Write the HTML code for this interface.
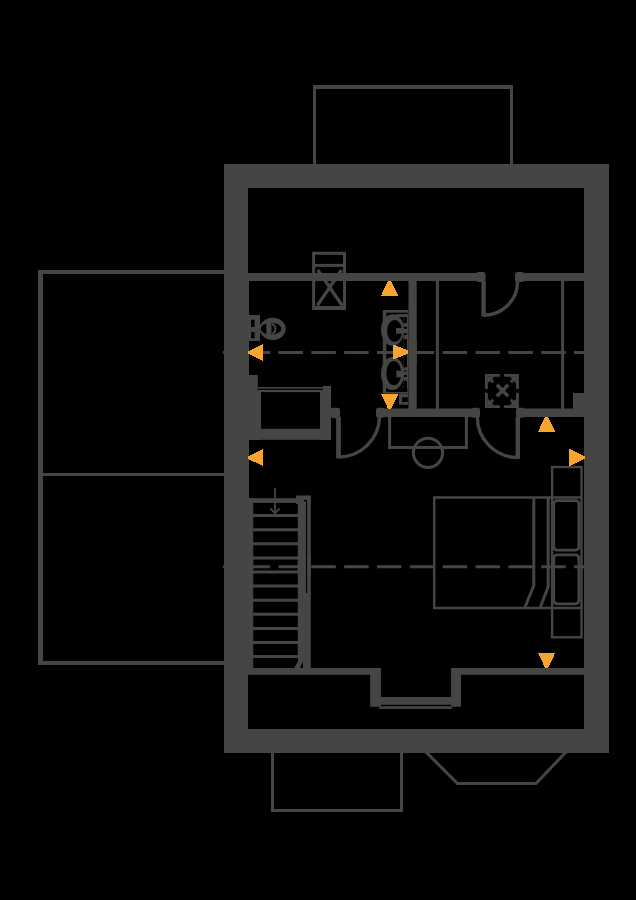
<!DOCTYPE html>
<html><head><meta charset="utf-8">
<style>
html,body{margin:0;padding:0;background:#000;}
body{width:636px;height:900px;overflow:hidden;font-family:"Liberation Sans",sans-serif;}
svg{display:block;}
</style></head>
<body>
<svg width="636" height="900" viewBox="0 0 636 900">
<rect width="636" height="900" fill="#000"/>
<g fill="none" stroke="#454543" stroke-width="3">
  <!-- top porch -->
  <path d="M313,164V85H513V164H510V89H316V164Z" fill="#454543" stroke="none"/>
  <!-- left annex -->
  <path d="M38,270H224V274H43V473H224V476H43V661H224V665H38Z" fill="#454543" stroke="none"/>
  <!-- bottom porch -->
  <path d="M271,752V812H403V752H400V809H274V752Z" fill="#454543" stroke="none"/>
  <!-- bay -->
  <polyline points="426,752 457.5,783.5 536,783.5 566,752"/>
</g>
<!-- dashed section lines -->

<!-- outer wall -->
<path fill="#454543" fill-rule="evenodd" d="M224,164H609V753H224Z M248,188H584V729H248Z"/>
<g fill="#454543">
  <!-- top interior wall -->
  <rect x="248" y="273" width="234" height="8"/>
  <rect x="517" y="273" width="67" height="8"/>
  <!-- vertical wall bathroom/ensuite -->
  <rect x="408.5" y="281" width="8.2" height="132"/>
  <!-- middle wall -->
  <rect x="379" y="408.5" width="101" height="8.5"/>
  <rect x="518" y="408.5" width="66" height="8.5"/>
  <rect x="573" y="393" width="11" height="16"/>
  <!-- cupboard frame -->
  <rect x="248" y="375" width="9.8" height="65"/>
  <rect x="248" y="392" width="13" height="48"/>
  <rect x="248" y="428.8" width="83" height="11"/>
  <rect x="322.9" y="386" width="8.1" height="53.8"/>
  <rect x="320" y="392" width="11" height="47.8"/>
  <rect x="257.8" y="387" width="65.1" height="1.6"/>
  <rect x="257.8" y="389.9" width="65.1" height="2.2"/>
  <rect x="331" y="408.3" width="6" height="9"/>
  <!-- bottom interior wall with bay recess -->
  <path d="M248,668H380.9V697H451.1V668H584V674.8H461V706.7H451.1V704.8H380.9V706.7H370.1V674.8H248Z"/>
  <rect x="379" y="706.2" width="73" height="2.7"/>
  <!-- stair -->
  <rect x="248" y="498.2" width="5.2" height="170"/>
  <rect x="248" y="498.2" width="50" height="4.7"/>
  <rect x="296" y="495.7" width="14.8" height="8.2"/>
  <rect x="297.8" y="495.7" width="13" height="172.5"/>
</g>
<rect x="306" y="501.3" width="1.1" height="91.7" fill="#000"/><rect x="303.9" y="500" width="3.2" height="1.4" fill="#000"/>
<polygon points="293.9,668.2 299.9,658 301,658 301,668.2" fill="#454543"/>
<polygon points="299.8,668.1 303,668.1 303,661.6" fill="#000"/>
<g stroke="#454543" stroke-width="3">
  <line x1="253" y1="515.6" x2="298" y2="515.6"/>
  <line x1="253" y1="529.7" x2="298" y2="529.7"/>
  <line x1="253" y1="543.8" x2="298" y2="543.8"/>
  <line x1="253" y1="557.9" x2="298" y2="557.9"/>
  <line x1="253" y1="572" x2="298" y2="572"/>
  <line x1="253" y1="586.1" x2="298" y2="586.1"/>
  <line x1="253" y1="600.2" x2="298" y2="600.2"/>
  <line x1="253" y1="614.3" x2="298" y2="614.3"/>
  <line x1="253" y1="628.4" x2="298" y2="628.4"/>
  <line x1="253" y1="642.5" x2="298" y2="642.5"/>
  <line x1="253" y1="656.6" x2="298" y2="656.6"/>
</g>

<!-- thin partition lines -->
<g stroke="#454543" stroke-width="3" fill="none">
  <line x1="437.4" y1="281" x2="437.4" y2="409"/>
  <line x1="562.6" y1="281" x2="562.6" y2="409"/>
  <!-- door B -->
  <line x1="483.6" y1="281" x2="483.6" y2="316.5" stroke-width="4.5"/>
  <path d="M483.6,315.2 A33.5,33.5 0 0 0 517.5,281" stroke-width="3.4"/>
  <!-- door A -->
  <line x1="338.5" y1="417" x2="338.5" y2="458.3" stroke-width="4.8"/>
  <path d="M338.5,457 A41,41 0 0 0 379.5,417" stroke-width="3.4"/>
  <!-- door C -->
  <line x1="517.8" y1="417" x2="517.8" y2="458.8" stroke-width="4.5"/>
  <path d="M517.8,457.5 A40.5,40.5 0 0 1 477.3,417" stroke-width="3.4"/>
  <!-- desk -->
  <polyline points="389.6,417 389.6,447.4 466.4,447.4 466.4,417"/>
  <circle cx="428" cy="452.8" r="14.6"/>
  <!-- bed -->
  <polyline points="581.5,497.6 434.2,497.6 434.2,607.9 581.5,607.9" stroke-width="2.5"/>
  <polyline points="533.8,497 533.8,585.5 524.8,607.7"/>
  <polyline points="548.2,497 548.2,586.7 540.2,607.7"/>
  <!-- wardrobe -->
  <rect x="552.1" y="467" width="29.4" height="170.3" stroke-width="2.4"/>
  <rect x="553.7" y="500.6" width="25.2" height="49.6" rx="3.5" stroke-width="2.8"/>
  <rect x="553.7" y="554.8" width="25.2" height="49" rx="3.5" stroke-width="2.8"/>
  <!-- stair arrow -->
  <line x1="275" y1="488" x2="275" y2="513.5" stroke-width="1.8"/>
  <polyline points="270.3,508.3 275,513.3 279.7,508.3" stroke-width="1.8"/>
  
  <!-- shower/hatch -->
  <rect x="313.6" y="253.3" width="30.9" height="55.2"/>
  <line x1="315" y1="265.4" x2="343" y2="265.4"/>
  <line x1="317.8" y1="270" x2="342.2" y2="305.5" stroke-width="3.3"/>
  <line x1="341.5" y1="270" x2="317.3" y2="305.5" stroke-width="3.3"/>
  <line x1="315" y1="307" x2="343" y2="307" stroke-width="2"/>
  <!-- toilet -->

  <!-- vanity -->


  <!-- extractor -->
  <path d="M486.4,388.9V375.4H499.8 M504.1,375.4H517.5V388.9 M517.5,392.8V406.6H504.1 M499.8,406.6H486.4V392.8" stroke-width="2.8"/>
  <path d="M489,378 L493.2,382.2 M515,378 L510.8,382.2 M489,404 L493.2,399.8 M515,404 L510.8,399.8" stroke-width="3"/>
  <path d="M496.8,384.8 L508.2,396.2 M508.2,384.8 L496.8,396.2" stroke-width="3.6"/>
</g>
<g fill="#454543">
  <!-- extractor corner heads -->
  <polygon points="487.8,376.8 494.2,376.8 487.8,383.2"/>
  <polygon points="516.1,376.8 509.7,376.8 516.1,383.2"/>
  <polygon points="487.8,405.2 494.2,405.2 487.8,398.8"/>
  <polygon points="516.1,405.2 509.7,405.2 516.1,398.8"/>
  <!-- door jambs -->
  <rect x="476" y="272" width="9.5" height="10" rx="2.5"/>
  <rect x="515" y="272" width="9.5" height="10" rx="2.5"/>
  <rect x="331" y="407.7" width="9" height="10.5" rx="2.5"/>
  <rect x="376" y="407.7" width="9" height="10" rx="2.5"/>
  <rect x="471" y="407.7" width="8.5" height="10" rx="2.5"/>
  <rect x="516" y="407.7" width="9" height="10" rx="2.5"/>
  <!-- toilet cistern -->
  <path fill-rule="evenodd" d="M248,315H260V341H248Z M251,319.8H254.6V326.9H251Z M251,332H254.6V338.2H251Z"/>
  <rect x="248" y="281" width="1" height="387"/>
  <rect x="382.8" y="310" width="25.6" height="83.7"/>
  <rect x="386.3" y="312.7" width="21.7" height="1.4" fill="#000"/>
  <rect x="386.3" y="314.1" width="17.3" height="77.9" fill="#000"/>
  <rect x="386.3" y="388" width="21" height="4" fill="#000"/>
  <rect x="396" y="314.1" width="12" height="3"/>
  <rect x="403.9" y="317.1" width="3" height="73" fill="#000"/>
  <rect x="403.6" y="323" width="3.4" height="3.7"/>
  <rect x="403.6" y="328.8" width="3.4" height="4.4"/>
  <rect x="403.6" y="335.1" width="3.4" height="4"/>
  <rect x="403.6" y="367.3" width="3.4" height="3.2"/>
  <rect x="403.6" y="371.5" width="3.4" height="3.5"/>
  <rect x="403.6" y="377" width="3.4" height="3.7"/>
  <ellipse cx="392.5" cy="330" rx="11.5" ry="15.8"/>
  <ellipse cx="392.5" cy="373.5" rx="11.5" ry="16.5"/>
  <ellipse cx="394.6" cy="331" rx="7.5" ry="11.1" fill="#000"/>
  <ellipse cx="393.8" cy="373.15" rx="7.5" ry="12.15" fill="#000"/>
  <!-- toilet bowl -->
  <ellipse cx="272.7" cy="328.85" rx="13" ry="11.15"/>
  <ellipse cx="271" cy="328.7" rx="10.4" ry="6" fill="#000"/>
  <rect x="266.3" y="322" width="5.2" height="13.4"/>
  <path d="M261.5,324.5 A9,7 0 0 0 261.5,333" fill="none" stroke="#454543" stroke-width="1.6"/>
  <path d="M272,324 A4.6,5.2 0 0 1 272,334" fill="none" stroke="#454543" stroke-width="2"/>
  <!-- taps -->
  <rect x="396" y="328.1" width="7.6" height="5.6"/>
  <rect x="396.3" y="370.7" width="7.6" height="6.6"/>
  <path fill-rule="evenodd" d="M399,393.7H408.2V404.7H399Z M402,397.3H407.7V402H402Z"/>
</g>
<g stroke="#454543" stroke-width="3" stroke-dasharray="24.5 8.34" stroke-dashoffset="10.2">
  <line x1="223" y1="352.5" x2="584" y2="352.5"/>
  <line x1="223" y1="566.7" x2="584" y2="566.7"/>
</g>
<g fill="#454543">
  <rect x="224" y="340" width="25" height="240"/>
  <rect x="408.5" y="340" width="8.2" height="25"/>
  <rect x="248" y="555" width="5.2" height="20"/>
  <rect x="297.8" y="555" width="8.2" height="20"/><rect x="307.1" y="555" width="3.7" height="20"/>
</g>
<!-- orange markers -->
<g fill="#F6A530" shape-rendering="crispEdges">
  <polygon points="391.00,280.70 388.20,280.70 380.90,295.80 398.30,295.80"/>
  <polygon points="248.39,351.10 248.41,353.90 263.00,361.00 263.00,343.80"/>
  <polygon points="408.40,353.40 408.40,350.60 393.30,344.60 393.30,359.40"/>
  <polygon points="388.20,408.90 391.00,408.90 398.30,394.00 380.90,394.00"/>
  <polygon points="548.00,416.50 545.20,416.50 538.00,431.80 555.20,431.80"/>
  <polygon points="584.50,458.90 584.50,456.10 569.40,448.70 569.40,466.30"/>
  <polygon points="248.39,456.20 248.41,459.00 263.00,466.20 263.00,448.80"/>
  <polygon points="545.20,668.10 548.00,668.10 555.20,653.00 538.00,653.00"/>
</g>
</svg>
</body></html>
